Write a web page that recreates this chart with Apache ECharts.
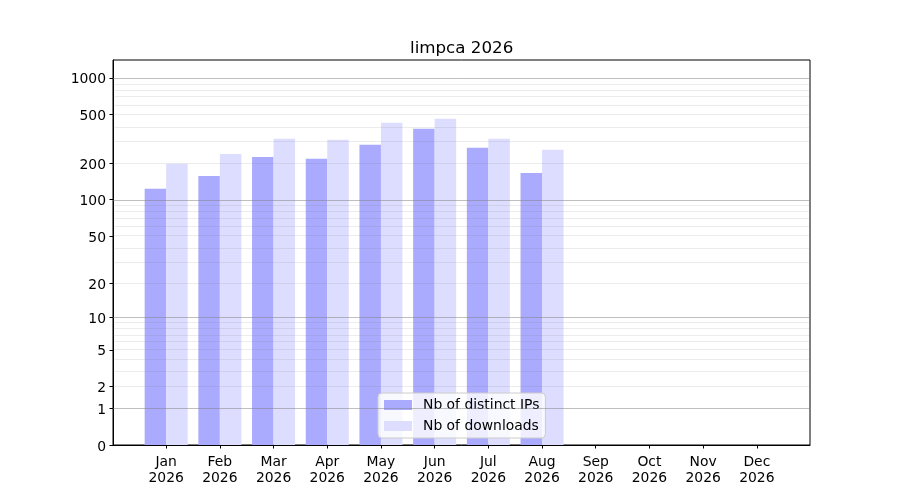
<!DOCTYPE html>
<html>
<head>
<meta charset="utf-8">
<title>limpca 2026</title>
<script src="https://cdn.jsdelivr.net/npm/echarts@6/dist/echarts.min.js"></script>
<style>
  html, body { margin: 0; padding: 0; background: #fff; }
  #chart { width: 900px; height: 500px; }
</style>
</head>
<body>
<div id="chart"></div>
<script>
var months = ['Jan', 'Feb', 'Mar', 'Apr', 'May', 'Jun', 'Jul', 'Aug', 'Sep', 'Oct', 'Nov', 'Dec'];
var year = '2026';
var distinctIPs = [123, 157, 225, 217, 283, 382, 267, 166, 0, 0, 0, 0];
var downloads = [198, 238, 317, 311, 428, 462, 317, 257, 0, 0, 0, 0];
var yTickLabels = [0, 1, 2, 5, 10, 20, 50, 100, 200, 500, 1000];
var majorGrid = [1, 10, 100, 1000];
var minorGrid = [2, 3, 4, 5, 6, 7, 8, 9, 20, 30, 40, 50, 60, 70, 80, 90, 200, 300, 400, 500, 600, 700, 800, 900];

// the y scale is log10(1 + v)
function fwd(v) { return Math.log10(1 + v); }
function inv(t) { return Math.round(Math.pow(10, t) - 1); }

var font = 'DejaVu Sans';
var monthIdx = months.map(function (m, i) { return i; });

function gridLine(v, color) {
  return { yAxis: fwd(v), lineStyle: { color: color, type: 'solid', width: 1 } };
}
var gridData = minorGrid.map(function (v) { return gridLine(v, 'rgba(128,128,128,0.15)'); })
  .concat(majorGrid.map(function (v) { return gridLine(v, 'rgba(128,128,128,0.5)'); }));

var myChart = echarts.init(document.getElementById('chart'));
myChart.setOption({
  animation: false,
  title: {
    text: 'limpca ' + year,
    left: 405,
    top: 35,
    textStyle: { fontFamily: font, fontSize: 16.7, fontWeight: 'normal', color: '#000' }
  },
  legend: {
    data: ['Nb of distinct IPs', 'Nb of downloads'],
    orient: 'vertical',
    left: 378,
    top: 393,
    icon: 'rect',
    itemWidth: 28,
    itemHeight: 10,
    itemGap: 7,
    padding: [5, 6, 5, 6],
    backgroundColor: 'rgba(255,255,255,0.8)',
    borderColor: '#cccccc',
    borderWidth: 1,
    borderRadius: 4,
    textStyle: { fontFamily: font, fontSize: 13.9, color: '#000', padding: [0, 0, 0, 6] }
  },
  grid: {
    left: 113, right: 90, top: 60, bottom: 55,
    show: true, borderColor: '#000', borderWidth: 1
  },
  xAxis: {
    type: 'value',
    min: -0.99,
    max: 11.99,
    splitLine: { show: false },
    axisLine: { onZero: false, lineStyle: { color: '#000' } },
    axisTick: { show: true, customValues: monthIdx, length: 3.5, lineStyle: { color: '#000' } },
    axisLabel: {
      customValues: monthIdx,
      margin: 9,
      color: '#000',
      fontFamily: font,
      fontSize: 13.9,
      lineHeight: 16.5,
      formatter: function (v) { return months[Math.round(v)] + '\n' + year; }
    }
  },
  yAxis: {
    type: 'value',
    min: 0,
    max: 3.146,
    splitLine: { show: false },
    axisLine: { show: true, onZero: false, lineStyle: { color: '#000' } },
    axisTick: { show: true, customValues: yTickLabels.map(fwd), length: 3.5, lineStyle: { color: '#000' } },
    axisLabel: {
      customValues: yTickLabels.map(fwd),
      margin: 7,
      color: '#000',
      fontFamily: font,
      fontSize: 13.9,
      formatter: function (t) { return '{v|' + inv(t) + '}'; },
      rich: {
        v: { fontFamily: font, fontSize: 13.9, color: '#000', padding: [4, 0, 0, 0] }
      }
    }
  },
  series: [
    {
      name: 'Nb of distinct IPs',
      type: 'bar',
      barWidth: 21.5,
      barGap: '0%',
      itemStyle: { color: '#aaaaff' },
      data: monthIdx.map(function (i) { return [i, fwd(distinctIPs[i])]; })
    },
    {
      name: 'Nb of downloads',
      type: 'bar',
      barWidth: 21.5,
      barGap: '0%',
      itemStyle: { color: '#ddddff' },
      data: monthIdx.map(function (i) { return [i, fwd(downloads[i])]; })
    },
    {
      name: 'grid',
      type: 'line',
      z: 5,
      data: [],
      markLine: {
        silent: true,
        symbol: ['none', 'none'],
        animation: false,
        label: { show: false },
        data: gridData
      }
    }
  ]
});
</script>
</body>
</html>
